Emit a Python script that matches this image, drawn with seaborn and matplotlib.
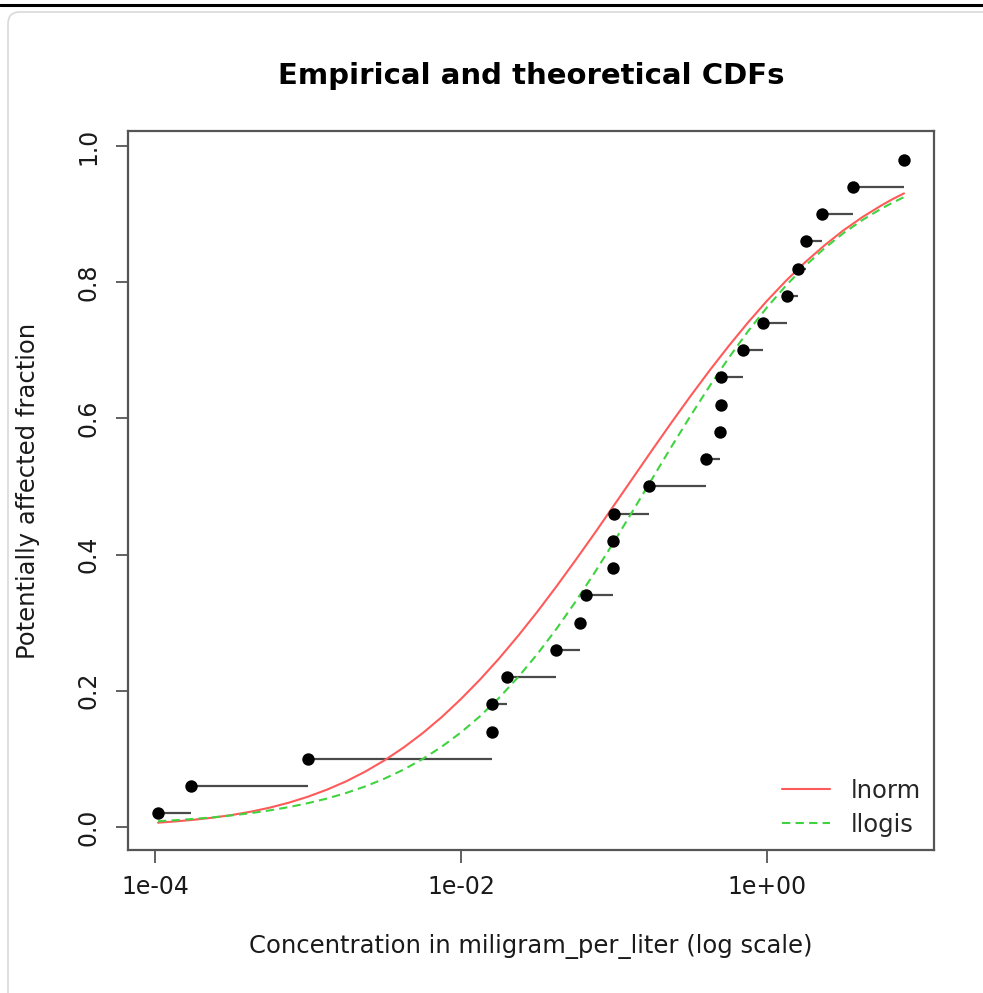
import numpy as np
import pandas as pd
import matplotlib
matplotlib.use("Agg")
import matplotlib.pyplot as plt
from matplotlib.patches import FancyBboxPatch
from matplotlib.lines import Line2D
import seaborn as sns

# ---- empirical data (concentrations, mg/L) and plotting positions ----
conc = [1.05e-4, 1.72e-4, 1.0e-3, 0.016, 0.016, 0.020, 0.042, 0.060, 0.066,
        0.098, 0.098, 0.100, 0.170, 0.40, 0.49, 0.50, 0.50, 0.70, 0.94,
        1.35, 1.60, 1.80, 2.30, 3.65, 7.85]
frac = [0.02, 0.06, 0.10, 0.14, 0.18, 0.22, 0.26, 0.30, 0.34, 0.38, 0.42,
        0.46, 0.50, 0.54, 0.58, 0.62, 0.66, 0.70, 0.74, 0.78, 0.82, 0.86,
        0.90, 0.94, 0.98]

# ---- theoretical CDFs at log10(x) positions ----
curve_log10x = [-3.98, -3.875, -3.75, -3.625, -3.5, -3.375, -3.25, -3.125,
                -3.0, -2.875, -2.75, -2.625, -2.5, -2.375, -2.25, -2.125,
                -2.0, -1.875, -1.75, -1.625, -1.5, -1.375, -1.25, -1.125,
                -1.0, -0.875, -0.75, -0.625, -0.5, -0.375, -0.25, -0.125,
                0.0, 0.125, 0.25, 0.375, 0.5, 0.625, 0.75, 0.8225, 0.895]
lnorm_cdf = [0.0061, 0.0078, 0.0103, 0.0134, 0.0173, 0.0222, 0.0282, 0.0355,
             0.0443, 0.0547, 0.0669, 0.0812, 0.0977, 0.1165, 0.1377, 0.1614,
             0.1878, 0.2165, 0.2476, 0.2810, 0.3163, 0.3535, 0.3921, 0.4317,
             0.4723, 0.5130, 0.5537, 0.5937, 0.6327, 0.6704, 0.7064, 0.7406,
             0.7727, 0.8023, 0.8294, 0.8540, 0.8762, 0.8958, 0.9131, 0.9222,
             0.9304]
llogis_cdf = [0.0082, 0.0096, 0.0116, 0.0139, 0.0168, 0.0201, 0.0242, 0.0290,
              0.0348, 0.0416, 0.0498, 0.0594, 0.0708, 0.0841, 0.0997, 0.1178,
              0.1387, 0.1626, 0.1897, 0.2203, 0.2541, 0.2911, 0.3312, 0.3740,
              0.4187, 0.4649, 0.5115, 0.5582, 0.6037, 0.6475, 0.6889, 0.7277,
              0.7631, 0.7953, 0.8241, 0.8497, 0.8721, 0.8915, 0.9084, 0.9170,
              0.9249]

x_ticks = [1e-4, 1e-2, 1e0]
x_tick_labels = ["1e-04", "1e-02", "1e+00"]
y_ticks = [0.0, 0.2, 0.4, 0.6, 0.8, 1.0]
y_tick_labels = ["0.0", "0.2", "0.4", "0.6", "0.8", "1.0"]

sns.set_theme(style="white")
plt.rcParams['font.family'] = ['DejaVu Sans']

W, H = 983, 993
fig = plt.figure(figsize=(W / 100, H / 100), dpi=100)
fig.patch.set_facecolor("white")

# screenshot frame
fig.add_artist(Line2D([0, 1], [1 - 5 / H, 1 - 5 / H], transform=fig.transFigure,
                      color="black", lw=2.2))
fig.add_artist(FancyBboxPatch((8 / W, -0.05), 1.2, (H - 12) / H + 0.05,
                              boxstyle="round,pad=0,rounding_size=0.012",
                              transform=fig.transFigure, fill=False,
                              edgecolor="#d9d9d9", lw=1.2))

ax = fig.add_axes([128 / W, 1 - 850 / H, (934 - 128) / W, (850 - 131) / H])
ax.set_facecolor("white")

df = pd.DataFrame({"conc": conc, "frac": frac})
curves = pd.DataFrame({
    "x": [10 ** v for v in curve_log10x] * 2,
    "cdf": lnorm_cdf + llogis_cdf,
    "dist": ["lnorm"] * len(lnorm_cdf) + ["llogis"] * len(llogis_cdf),
})

RED = "#ff5a5a"
GREEN = "#3fd43f"

# horizontal step segments
x_next = conc[1:] + [conc[-1]]
ax.hlines(frac, conc, x_next, colors="#4a4a4a", lw=1.6, zorder=2)

sns.lineplot(data=curves, x="x", y="cdf", hue="dist", style="dist",
             palette={"lnorm": RED, "llogis": GREEN},
             dashes={"lnorm": "", "llogis": (4, 2.5)},
             lw=1.5, ax=ax, legend=False, zorder=3, sort=False)

sns.scatterplot(data=df, x="conc", y="frac", color="black", s=80,
                edgecolor="black", linewidth=0, ax=ax, zorder=4)

ax.set_xscale("log")
ax.set_xlim(10 ** -4.176, 10 ** 1.091)
ax.set_ylim(-0.034, 1.022)
ax.set_xticks(x_ticks)
ax.set_xticklabels(x_tick_labels)
ax.minorticks_off()
ax.set_yticks(y_ticks)
ax.set_yticklabels(y_tick_labels, rotation=90, va="center")

for s in ax.spines.values():
    s.set_color("#555555")
    s.set_linewidth(1.6)
    s.set_visible(True)

FS = 17.5
ax.tick_params(axis="both", direction="out", length=9, width=1.3,
               color="#555555", labelsize=17, labelcolor="#1a1a1a",
               bottom=True, left=True)
ax.tick_params(axis="x", pad=9)
ax.tick_params(axis="y", pad=11)

ax.set_xlabel("Concentration in miligram_per_liter (log scale)",
              fontsize=FS, color="#1a1a1a", labelpad=25)
ax.set_ylabel("Potentially affected fraction", fontsize=FS,
              color="#1a1a1a", labelpad=26)
ax.set_title("Empirical and theoretical CDFs", fontsize=21,
             fontweight="bold", pad=34, color="black")

handles = [Line2D([0], [0], color=RED, lw=1.5),
           Line2D([0], [0], color=GREEN, lw=1.5, dashes=(4, 2.5))]
ax.legend(handles, ["lnorm", "llogis"], loc="lower right", frameon=False,
          fontsize=FS, handlelength=1.95, handletextpad=0.85,
          borderaxespad=0.15, labelspacing=0.4)

fig.savefig("out.png", dpi=100)
